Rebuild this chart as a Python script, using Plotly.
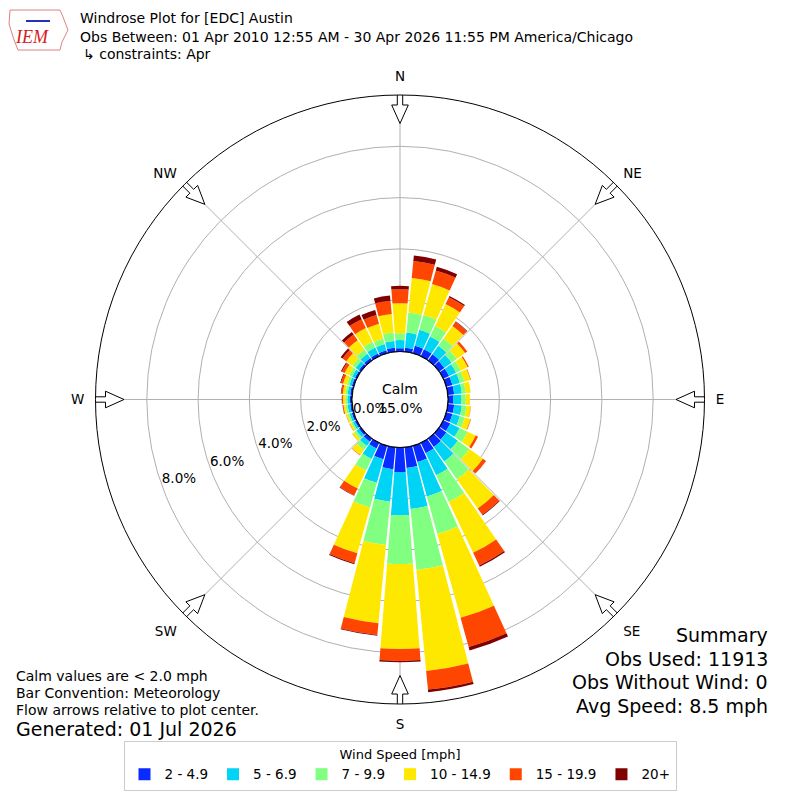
import numpy as np
import plotly.graph_objects as go

# wind direction bins (deg, 10 deg bins) and frequency (%) per speed class
directions = list(range(0, 360, 10))
spd_2_5 = [0.13, 0.16, 0.30, 0.30, 0.30, 0.25, 0.25, 0.25, 0.25, 0.20, 0.25, 0.25,
           0.30, 0.35, 0.40, 0.45, 0.66, 0.81, 0.96, 0.86, 0.55, 0.25, 0.15, 0.10,
           0.08, 0.08, 0.08, 0.08, 0.08, 0.08, 0.08, 0.10, 0.12, 0.12, 0.12, 0.16]
spd_5_7 = [0.32, 0.59, 0.65, 0.55, 0.40, 0.35, 0.30, 0.30, 0.30, 0.32, 0.30, 0.30,
           0.40, 0.55, 0.70, 0.95, 1.39, 1.61, 1.69, 1.27, 0.95, 0.45, 0.20, 0.12,
           0.09, 0.09, 0.10, 0.10, 0.10, 0.10, 0.12, 0.15, 0.20, 0.25, 0.25, 0.26]
spd_7_10 = [0.26, 0.79, 0.60, 0.45, 0.35, 0.25, 0.20, 0.18, 0.15, 0.17, 0.18, 0.20,
            0.35, 0.55, 0.85, 1.15, 1.52, 2.38, 1.89, 1.70, 1.00, 0.50, 0.20, 0.10,
            0.07, 0.07, 0.08, 0.08, 0.08, 0.10, 0.12, 0.15, 0.20, 0.25, 0.22, 0.33]
spd_10_15 = [1.17, 1.35, 1.25, 0.95, 0.60, 0.40, 0.30, 0.25, 0.20, 0.17, 0.17, 0.23,
             0.35, 0.65, 1.40, 2.20, 3.39, 3.96, 3.32, 3.06, 1.85, 0.77, 0.24, 0.10,
             0.07, 0.07, 0.08, 0.09, 0.11, 0.15, 0.20, 0.30, 0.45, 0.60, 0.60, 0.73]
spd_15_20 = [0.55, 0.66, 0.55, 0.30, 0.20, 0.10, 0.05, 0.02, 0.00, 0.00, 0.01, 0.02,
             0.10, 0.15, 0.30, 0.55, 1.18, 0.73, 0.46, 0.46, 0.40, 0.30, 0.02, 0.01,
             0.01, 0.01, 0.03, 0.04, 0.06, 0.09, 0.12, 0.18, 0.27, 0.38, 0.36, 0.52]
spd_20 = [0.13, 0.22, 0.15, 0.05, 0.02, 0.00, 0.00, 0.00, 0.00, 0.00, 0.00, 0.00,
          0.00, 0.00, 0.03, 0.05, 0.14, 0.10, 0.05, 0.03, 0.04, 0.02, 0.00, 0.00,
          0.00, 0.00, 0.01, 0.01, 0.02, 0.03, 0.04, 0.09, 0.12, 0.20, 0.20, 0.20]

speed_labels = ["2 - 4.9", "5 - 6.9", "7 - 9.9", "10 - 14.9", "15 - 19.9", "20+"]
speed_colors = ["#0a2bff", "#00d4f5", "#80ff80", "#ffe800", "#ff4600", "#800000"]
speed_series = [spd_2_5, spd_5_7, spd_7_10, spd_10_15, spd_15_20, spd_20]

ring_ticks = [2, 4, 6, 8]
compass_angles = [0, 45, 90, 135, 180, 225, 270, 315]
compass_names = ["N", "NE", "E", "SE", "S", "SW", "W", "NW"]

calm_pct = 15.0
r_max = 10

# page has an 8px body margin, so work in a 784px figure shifted by 8px
W = 784
OFF = 8
R_OUT = 304.5
HOLE = 48.0
px_per_pct = (R_OUT - HOLE) / r_max

FONT = "DejaVu Sans"


def px(x, y):
    return (x - OFF) / W, 1 - (y - OFF) / W


fig = go.Figure()

for name, color, vals in zip(speed_labels, speed_colors, speed_series):
    fig.add_trace(go.Barpolar(r=vals, theta=directions, name=name, width=9,
                              marker=dict(color=color, line=dict(width=0)),
                              hoverinfo="skip"))

# calm circle
th = np.linspace(0, 360, 181)
fig.add_trace(go.Scatterpolar(r=[0] * len(th), theta=th, mode="lines",
                              line=dict(color="black", width=1.2),
                              showlegend=False, hoverinfo="skip"))

# flow arrows pointing to the plot center
arrow_u = np.array([306, 294.5, 294.5, 276, 294.5, 294.5, 306, 306])
arrow_v = np.array([-2.7, -2.7, -8.3, 0, 8.3, 2.7, 2.7, -2.7])
for ang in compass_angles:
    rr = (np.hypot(arrow_u, arrow_v) - HOLE) / px_per_pct
    tt = ang + np.degrees(np.arctan2(arrow_v, arrow_u))
    fig.add_trace(go.Scatterpolar(r=rr, theta=tt, mode="lines", fill="toself",
                                  fillcolor="white", line=dict(color="black", width=1),
                                  cliponaxis=False, showlegend=False, hoverinfo="skip"))

# ring labels
fig.add_trace(go.Scatterpolar(r=[t - 0.7 for t in ring_ticks], theta=[250] * len(ring_ticks),
                              mode="text", text=["%.1f%%" % t for t in ring_ticks],
                              textfont=dict(family=FONT, size=13.5, color="black"),
                              showlegend=False, hoverinfo="skip"))

x0, y1 = px(95.5, 95)
x1, y0 = px(704.5, 704)
fig.update_layout(
    width=W, height=W,
    margin=dict(l=0, r=0, t=0, b=0),
    paper_bgcolor="white",
    font=dict(family=FONT, color="black"),
    polar=dict(
        domain=dict(x=[x0, x1], y=[y0, y1]),
        hole=HOLE / R_OUT,
        bgcolor="white",
        barmode="stack",
        radialaxis=dict(range=[0, r_max], tickvals=ring_ticks, showticklabels=False,
                        ticks="", showline=False, gridcolor="#b0b0b0", gridwidth=1),
        angularaxis=dict(direction="clockwise", rotation=90,
                         tickvals=compass_angles, ticktext=compass_names,
                         tickfont=dict(family=FONT, size=13.5, color="black"),
                         ticks="outside", ticklen=8, tickcolor="rgba(0,0,0,0)",
                         showline=True, linecolor="black", linewidth=1,
                         gridcolor="#b0b0b0", gridwidth=1),
    ),
    legend=dict(orientation="h", x=px(400, 0)[0], xanchor="center",
                y=px(0, 741)[1], yanchor="top",
                title=dict(text="Wind Speed [mph]", side="top center",
                           font=dict(family=FONT, size=13)),
                font=dict(family=FONT, size=13.5), traceorder="normal",
                bordercolor="#cccccc", borderwidth=1, bgcolor="white",
                itemwidth=30),
)


def px_note(text, x, y, size, xanchor="left", **kw):
    ax, ay = px(x, y)
    fig.add_annotation(text=text, x=ax, y=ay, xref="paper", yref="paper",
                       xanchor=xanchor, yanchor="middle", showarrow=False,
                       font=dict(family=kw.pop("family", FONT), size=size,
                                 color=kw.pop("color", "black")), **kw)


px_note("Windrose Plot for [EDC] Austin", 78, 18, 14)
px_note("Obs Between: 01 Apr 2010 12:55 AM - 30 Apr 2026 11:55 PM America/Chicago", 78, 37, 14)
px_note("\u21b3 constraints: Apr", 81, 54, 14)

px_note("Calm", 400, 389, 14, xanchor="center")
px_note("%.1f%%" % calm_pct, 400, 408, 14, xanchor="center")
px_note("0.0%", 370, 408, 13.5, xanchor="center")

for i, line in enumerate(["Summary", "Obs Used: 11913", "Obs Without Wind: 0", "Avg Speed: 8.5 mph"]):
    px_note(line, 770, 635 + i * 23.5, 19, xanchor="right")

for i, line in enumerate(["Calm values are < 2.0 mph", "Bar Convention: Meteorology",
                          "Flow arrows relative to plot center."]):
    px_note(line, 14, 676 + i * 17, 14)
px_note("Generated: 01 Jul 2026", 14, 729, 19)

# IEM logo (rough)
logo = [(10, 10), (60, 10), (63, 17), (68, 30), (62, 42), (60, 50), (18, 50), (14, 40), (9, 24)]
pts = [px(a, b) for a, b in logo]
path = "M " + " L ".join("%.4f,%.4f" % p for p in pts) + " Z"
fig.add_shape(type="path", xref="paper", yref="paper", path=path,
              line=dict(color="#e08080", width=1))
px_note("<i>IEM</i>", 13, 37, 18, family="Liberation Serif", color="#d62020")
lx0, ly = px(26, 21)
lx1, _ = px(50, 21)
fig.add_shape(type="line", xref="paper", yref="paper", x0=lx0, x1=lx1, y0=ly, y1=ly,
              line=dict(color="#2030c0", width=2))

fig.write_html("out.html")
